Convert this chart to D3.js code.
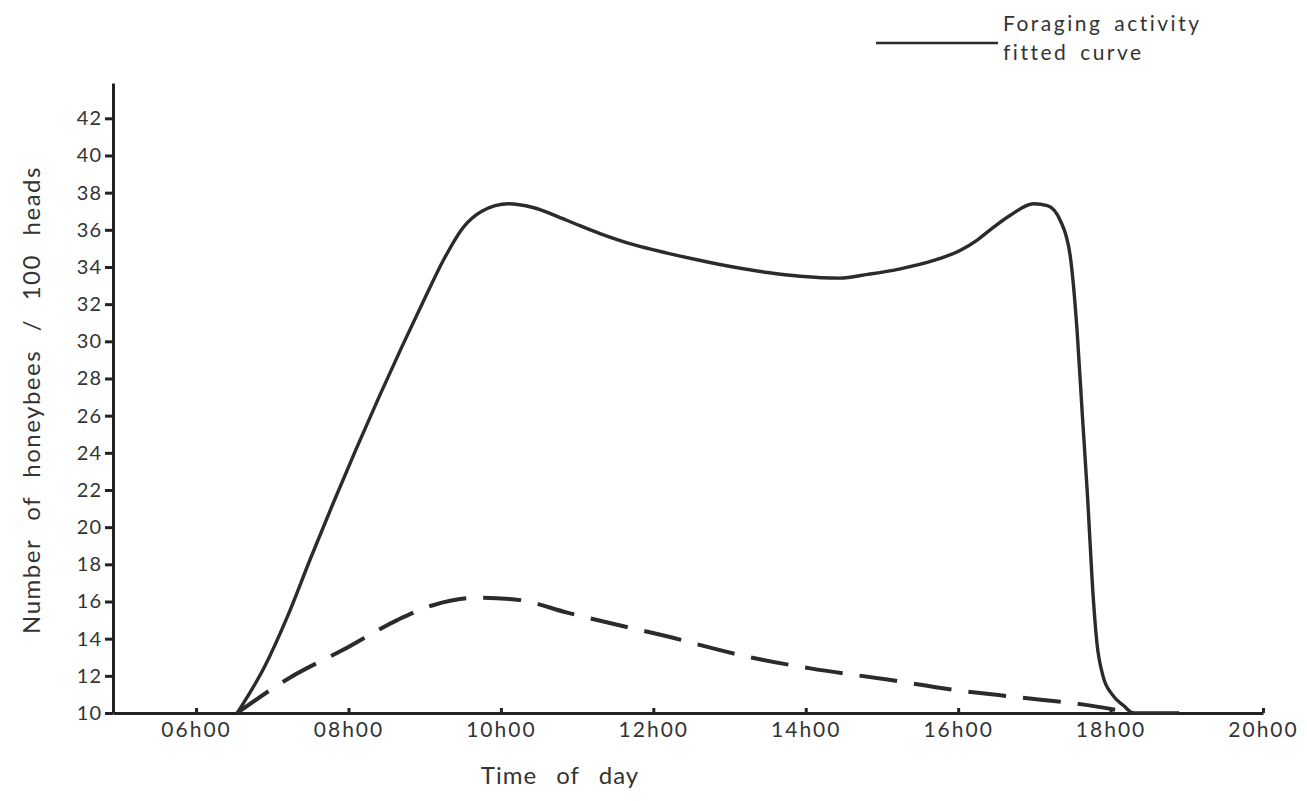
<!DOCTYPE html>
<html>
<head>
<meta charset="utf-8">
<script src="https://cdn.jsdelivr.net/npm/d3@7"></script>
<style>
  html, body { margin: 0; padding: 0; background: #fff; }
  #chart { width: 1307px; height: 801px; }
  text { font-family: Lato, 'Open Sans', sans-serif; fill: #333; }
  .axis path, .axis line { stroke: #222; stroke-width: 3px; }
  .axis text { font-size: 20px; fill: #333; letter-spacing: 1px; }
</style>
</head>
<body>
<div id="chart"></div>
<script>
// Data (hours of day, honeybees per 100 heads)
const foragingHours = [6.54, 6.9, 7.2, 7.5, 7.8, 8.1, 8.4, 8.7, 9.0, 9.25, 9.5, 9.75, 10.1, 10.42,
  10.87, 11.3, 11.74, 12.18, 12.62, 13.05, 13.5, 13.93, 14.45, 14.81, 15.24, 15.68, 16.03, 16.25, 16.42,
  16.69, 16.99, 17.17, 17.34, 17.47, 17.56, 17.63, 17.7, 17.76, 17.82, 17.9, 18.02, 18.17, 18.3, 18.9];
const foragingValues = [10, 12.5, 15.2, 18.3, 21.3, 24.2, 27.0, 29.7, 32.3, 34.4, 36.1, 37.0, 37.4, 37.2,
  36.5, 35.8, 35.2, 34.75, 34.35, 34.0, 33.7, 33.5, 33.4, 33.6, 33.9, 34.35, 34.9, 35.45, 36.0,
  36.8, 37.4, 37.3, 36.5, 34.6, 30.6, 26.0, 21.5, 17.0, 13.8, 12.0, 11.0, 10.4, 10, 10];

const dashedHours = [6.54, 7.23, 7.93, 8.64, 9.11, 9.69, 10.21, 10.87, 11.47, 12.35, 12.62, 13.27, 14.06,
  15.07, 15.94, 16.78, 17.65, 18.3];
const dashedValues = [10, 11.9, 13.4, 15.0, 15.8, 16.2, 16.1, 15.4, 14.8, 13.95, 13.65, 13.0, 12.4,
  11.8, 11.25, 10.85, 10.45, 10];

const xTickHours = [6, 8, 10, 12, 14, 16, 18, 20];
const xTickLabels = ['06h00', '08h00', '10h00', '12h00', '14h00', '16h00', '18h00', '20h00'];
const yTickValues = [10, 12, 14, 16, 18, 20, 22, 24, 26, 28, 30, 32, 34, 36, 38, 40, 42];

const legendLabels = ['Foraging activity', 'fitted curve'];

const xScale = d3.scaleLinear().domain([4.91, 20]).range([113, 1263]);
const yScale = d3.scaleLinear().domain([10, 43.9]).range([713, 83]);

const svg = d3
  .select('#chart')
  .append('svg')
  .attr('width', 1307)
  .attr('height', 801);

// Axes
const xAxis = d3
  .axisBottom(xScale)
  .tickValues(xTickHours)
  .tickFormat((d, i) => xTickLabels[i])
  .tickSizeInner(-5)
  .tickSizeOuter(0)
  .tickPadding(9);
const yAxis = d3
  .axisLeft(yScale)
  .tickValues(yTickValues)
  .tickSizeInner(8)
  .tickSizeOuter(0)
  .tickPadding(3);

svg
  .append('g')
  .attr('class', 'axis x-axis')
  .attr('transform', 'translate(0, 713)')
  .call(xAxis);
svg
  .append('g')
  .attr('class', 'axis y-axis')
  .attr('transform', 'translate(113, 0)')
  .call(yAxis);
svg.selectAll('.x-axis .tick line').attr('stroke-width', 2);
svg.selectAll('.y-axis .tick line').attr('stroke-width', 2);
svg
  .selectAll('.x-axis .tick text')
  .style('font-size', '21px')
  .style('letter-spacing', '2px');

// Axis labels
svg
  .append('text')
  .attr('x', 560)
  .attr('y', 784)
  .attr('text-anchor', 'middle')
  .style('font-size', '24px')
  .style('letter-spacing', '1px')
  .style('word-spacing', '12px')
  .text('Time of day');
svg
  .append('text')
  .attr('x', 40)
  .attr('y', 400)
  .attr('text-anchor', 'middle')
  .attr('transform', 'rotate(-90, 40, 400)')
  .style('font-size', '24px')
  .style('letter-spacing', '1.5px')
  .style('word-spacing', '11px')
  .text('Number of honeybees / 100 heads');

// Curves
const line = d3
  .line()
  .x((d) => xScale(d[0]))
  .y((d) => yScale(d[1]))
  .curve(d3.curveMonotoneX);

svg
  .append('path')
  .datum(dashedHours.map((h, i) => [h, dashedValues[i]]))
  .attr('d', line)
  .attr('fill', 'none')
  .attr('stroke', '#2b2b2b')
  .attr('stroke-width', 4)
  .attr('stroke-dasharray', '38,17');

svg
  .append('path')
  .datum(foragingHours.map((h, i) => [h, foragingValues[i]]))
  .attr('d', line)
  .attr('fill', 'none')
  .attr('stroke', '#2b2b2b')
  .attr('stroke-width', 3.4)
  .attr('stroke-linejoin', 'round');

// Legend
svg
  .append('line')
  .attr('x1', 876)
  .attr('x2', 998)
  .attr('y1', 43)
  .attr('y2', 43)
  .attr('stroke', '#2b2b2b')
  .attr('stroke-width', 2.5);
svg
  .selectAll('text.legend')
  .data(legendLabels)
  .join('text')
  .attr('class', 'legend')
  .attr('x', 1003)
  .attr('y', (d, i) => 31 + i * 29)
  .style('font-size', '21px')
  .style('letter-spacing', '2.5px')
  .style('word-spacing', '4px')
  .text((d) => d);
</script>
</body>
</html>
